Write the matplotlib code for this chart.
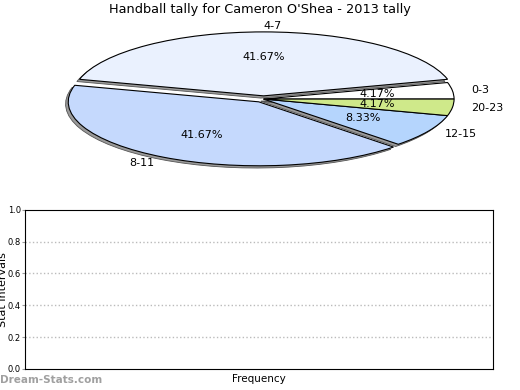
import matplotlib
matplotlib.use("Agg")
import matplotlib.pyplot as plt

# tally counts per stat interval (24 games total)
labels = ["0-3", "4-7", "8-11", "12-15", "20-23"]
counts = [1, 10, 10, 2, 1]
colors = ["#ffffff", "#eaf1fe", "#c5d9fd", "#b5d5fd", "#cfe98a"]
explode = [0.0, 0.05, 0.05, 0.0, 0.0]

y_ticks = [0.0, 0.2, 0.4, 0.6, 0.8, 1.0]

fig = plt.figure(figsize=(5.2, 3.9), dpi=100)

ax_pie = fig.add_axes([0.0488, 0.541, 0.916, 0.41])
ax_pie.pie(
    counts,
    labels=labels,
    colors=colors,
    explode=explode,
    autopct="%.2f%%",
    shadow={"ox": -0.01, "oy": -0.025, "facecolor": "#9a9a9a",
            "edgecolor": "#555555", "alpha": 1.0, "linewidth": 0.6},
    startangle=0,
    wedgeprops={"edgecolor": "black", "linewidth": 0.8},
    textprops={"fontsize": 8},
)
ax_pie.set_aspect("auto")
ax_pie.set_xlim(-1.25, 1.25)
ax_pie.set_ylim(-1.25, 1.25)

fig.text(0.5, 1 - 10 / 390, "Handball tally for Cameron O'Shea - 2013 tally",
         ha="center", va="center", fontsize=9.3)

ax = fig.add_axes([0.048, 0.054, 0.9, 0.408])
ax.set_ylim(0, 1)
ax.set_yticks(y_ticks)
ax.set_yticklabels([f"{v:.1f}" for v in y_ticks], fontsize=6)
ax.set_xticks([])
for v in y_ticks[1:-1]:
    ax.axhline(v, color="#bbbbbb", linestyle=":", linewidth=1.0)
ax.tick_params(axis="y", length=2, color="#999999", pad=0.8)
ax.set_xlabel("Frequency", fontsize=7.5, labelpad=3.5)
ax.set_ylabel("Stat Intervals", fontsize=8)
ax.yaxis.set_label_coords(-0.036, 0.5)

fig.text(0.0, 1 - 380 / 390, "Dream-Stats.com", ha="left", va="center",
         fontsize=7.5, color="#a0a0a0", fontweight="bold")

fig.savefig("out.png", dpi=100)
